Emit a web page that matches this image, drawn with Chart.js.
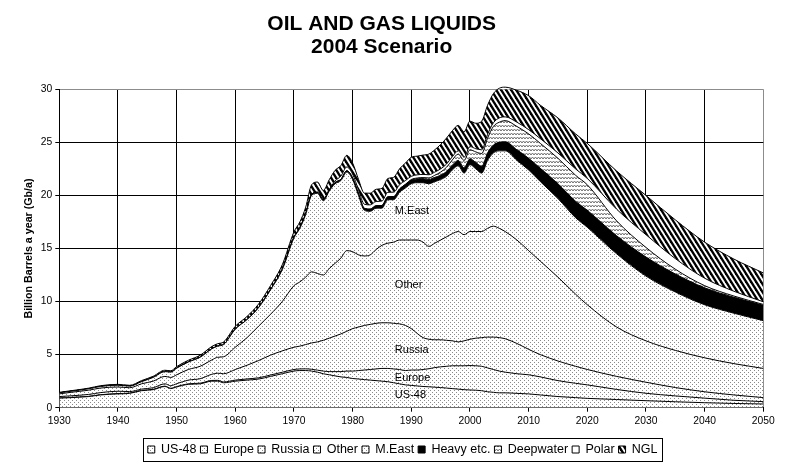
<!DOCTYPE html>
<html><head><meta charset="utf-8">
<script src="https://cdn.jsdelivr.net/npm/chart.js@4.4.1/dist/chart.umd.min.js"></script>
<style>html,body{margin:0;padding:0;background:#fff}#wrap{width:799px;height:470px}canvas{display:block}</style>
</head><body><div id="wrap"><canvas id="c" width="799" height="470"></canvas></div>
<script>
const years = [1930,1932,1935,1937,1940,1942,1944,1946,1948,1949,
1950,1952,1954,1956,1957,1958,1960,1962,1964,1966,
1968,1970,1971,1972,1973,1974,1975,1976,1977,1978,
1979,1980,1981,1982,1983,1984,1985,1986,1987,1988,
1989,1990,1991,1992,1993,1994,1995,1996,1997,1998,
1999,2000,2001,2002,2003,2004,2005,2006,2008,2010,
2012,2015,2018,2020,2025,2030,2035,2040,2045,2050];

const us48 = [0.9,0.95,1.05,1.2,1.3,1.35,1.6,1.7,2.0,1.8,
1.95,2.2,2.25,2.5,2.5,2.35,2.5,2.6,2.7,2.95,
3.2,3.45,3.5,3.5,3.45,3.35,3.2,3.1,3.0,2.9,
2.85,2.75,2.7,2.65,2.6,2.55,2.5,2.45,2.35,2.25,
2.15,2.1,2.05,2.0,1.97,1.93,1.9,1.85,1.8,1.75,
1.7,1.67,1.65,1.6,1.5,1.45,1.4,1.4,1.35,1.3,
1.2,1.05,0.95,0.88,0.77,0.66,0.56,0.47,0.4,0.35];

const europe = [0.02,0.02,0.02,0.02,0.03,0.03,0.03,0.03,0.03,0.03,
0.04,0.05,0.06,0.07,0.08,0.08,0.1,0.11,0.12,0.13,
0.14,0.15,0.15,0.16,0.17,0.19,0.25,0.3,0.4,0.5,
0.6,0.7,0.8,0.9,1.0,1.1,1.2,1.25,1.3,1.35,
1.35,1.45,1.5,1.6,1.7,1.85,1.95,2.05,2.15,2.2,
2.25,2.3,2.3,2.3,2.25,2.15,2.05,1.95,1.85,1.8,
1.7,1.5,1.35,1.27,0.95,0.7,0.55,0.43,0.3,0.22];

const russia = [0.13,0.15,0.18,0.2,0.22,0.14,0.12,0.15,0.22,0.24,
0.27,0.35,0.42,0.58,0.67,0.77,1.0,1.29,1.63,1.87,
2.01,2.1,2.15,2.29,2.48,2.66,2.9,3.15,3.35,3.55,
3.75,4.0,4.1,4.2,4.25,4.3,4.3,4.3,4.3,4.3,
4.25,3.9,3.45,3.0,2.78,2.62,2.55,2.45,2.35,2.25,
2.35,2.48,2.6,2.7,2.9,3.05,3.15,3.15,2.85,2.4,
2.1,1.85,1.6,1.45,1.23,1.04,0.79,0.6,0.5,0.38];

const other = [0.25,0.33,0.4,0.43,0.4,0.36,0.5,0.62,0.7,0.78,
0.84,1.0,1.17,1.35,1.5,1.6,2.1,2.6,3.25,3.85,
4.65,5.8,6.05,6.35,6.7,6.45,6.15,6.55,6.85,7.15,
7.6,7.25,6.8,6.55,6.55,6.95,7.3,7.5,7.65,7.9,
8.05,8.35,8.8,9.0,8.75,9.1,9.4,9.75,10.1,10.4,
10.0,10.15,10.05,10.0,10.25,10.45,10.3,10.1,9.75,9.3,
8.8,7.9,6.8,6.1,4.65,3.9,3.5,3.2,2.95,2.75];

const mEast = [0.1,0.1,0.13,0.15,0.17,0.15,0.2,0.35,0.45,0.5,
0.62,0.7,0.85,1.05,1.05,1.15,1.7,1.7,1.75,2.3,
3.0,4.5,5.05,5.9,7.2,7.55,7.0,7.3,7.5,7.3,
7.4,6.8,5.6,4.3,4.1,3.9,3.5,4.1,4.0,4.5,
4.9,5.3,5.4,5.6,5.9,5.8,5.7,5.7,6.0,6.2,
5.8,6.3,5.9,5.5,6.4,6.9,7.3,7.6,7.5,7.6,
7.5,7.4,7.2,7.3,6.9,6.1,5.5,5.0,4.75,4.5];

const heavy = [0,0,0,0,0,0,0,0,0,0,
0,0,0,0,0,0,0,0,0,0.02,
0.03,0.05,0.06,0.07,0.08,0.09,0.1,0.1,0.11,0.12,
0.13,0.15,0.17,0.19,0.21,0.23,0.25,0.27,0.29,0.31,
0.33,0.35,0.36,0.38,0.4,0.4,0.4,0.45,0.45,0.5,
0.5,0.55,0.6,0.65,0.7,0.75,0.8,0.85,1.0,1.1,
1.25,1.4,1.55,1.6,1.7,1.8,1.7,1.6,1.5,1.45];

const deepwater = [0,0,0,0,0,0,0,0,0,0,
0,0,0,0,0,0,0,0,0,0,
0,0,0,0,0,0,0,0,0,0,
0,0,0,0,0,0,0,0,0,0,
0.02,0.05,0.08,0.1,0.15,0.2,0.3,0.4,0.5,0.6,
0.7,0.85,1.0,1.2,1.4,1.75,1.9,2.0,2.2,2.3,
2.35,2.4,2.45,2.4,1.4,0.9,0.45,0.2,0.12,0.08];

const polar = [0,0,0,0,0,0,0,0,0,0,
0,0,0,0,0,0,0,0,0,0,
0,0.02,0.02,0.02,0.02,0.02,0.02,0.02,0.15,0.3,
0.35,0.35,0.35,0.38,0.4,0.4,0.42,0.42,0.42,0.4,
0.35,0.3,0.3,0.3,0.3,0.3,0.3,0.3,0.3,0.3,
0.3,0.3,0.3,0.35,0.35,0.35,0.4,0.35,0.4,0.4,
0.45,0.5,0.6,0.6,1.1,1.2,1.0,0.7,0.45,0.25];

const ngl = [0.05,0.05,0.06,0.07,0.08,0.08,0.1,0.11,0.13,0.13,
0.15,0.17,0.19,0.22,0.23,0.24,0.27,0.3,0.34,0.38,
0.43,0.5,0.52,0.6,0.9,0.95,0.85,0.95,1.0,1.0,
1.1,1.05,1.0,1.05,1.1,1.15,1.2,1.3,1.4,1.5,
1.65,1.8,1.76,1.82,1.95,2.1,2.3,2.45,2.45,2.4,
2.4,2.4,2.4,2.7,2.75,2.75,2.8,2.8,3.0,3.2,
3.15,3.3,3.3,3.3,3.6,3.7,3.65,3.4,3.03,2.72];

const seriesNames = ['US-48','Europe','Russia','Other','M.East','Heavy etc.','Deepwater','Polar','NGL'];
const seriesValues = [us48, europe, russia, other, mEast, heavy, deepwater, polar, ngl];
const xTicks = {min:1930, max:2050, step:10};
const yTicks = {min:0, max:30, step:5};
const titleLines = ['OIL AND GAS LIQUIDS','2004 Scenario'];
const yTitle = 'Billion Barrels a year (Gb/a)';
const areaLabels = ['M.East','Other','Russia','Europe','US-48'];

// label anchors (position only, not data)
const areaLabelAnchor = {year:1987.2, values:[18.55,11.55,5.45,2.8,1.2]};

function makePattern(w,h,draw){
  const c=document.createElement('canvas'); c.width=w; c.height=h;
  const x=c.getContext('2d'); x.fillStyle='#fff'; x.fillRect(0,0,w,h); draw(x);
  return x.createPattern(c,'repeat');
}
const dots = makePattern(4,4,x=>{x.fillStyle='#8a8a8a';x.fillRect(0,0,1,1);x.fillRect(2,2,1,1);});
const waves = makePattern(6,4,x=>{x.strokeStyle='#707070';x.lineWidth=1;x.beginPath();x.moveTo(0,3);x.lineTo(1.5,1);x.lineTo(3,3);x.lineTo(4.5,1);x.lineTo(6,3);x.stroke();});
const stripes = makePattern(5,8,x=>{x.strokeStyle='#000';x.lineWidth=2.3;for(const k of [-1,0,1]){x.beginPath();x.moveTo(k*5-1.25,-2);x.lineTo(k*5+6.25,10);x.stroke();}});
const fills = [dots,dots,dots,dots,dots,'#000',waves,'#fff',stripes];

const FONT = "'Liberation Sans', Arial, sans-serif";

const datasets = seriesNames.map((n,i)=>({
  label:n,
  data: years.map((yr,j)=>({x:yr,y:seriesValues[i][j]})),
  backgroundColor: fills[i],
  borderColor:'#000',
  borderWidth:1,
  pointRadius:0,
  pointHoverRadius:0,
  fill: i===0 ? 'origin' : '-1',
  cubicInterpolationMode:'monotone',
  clip:{left:0,top:6,right:0,bottom:0}
}));

const areaLabelPlugin = {
  id:'areaLabels',
  afterDatasetsDraw(chart){
    const ctx=chart.ctx, xs=chart.scales.x, ys=chart.scales.y;
    ctx.save();
    ctx.font = "11px "+FONT; ctx.fillStyle='#000'; ctx.textAlign='left'; ctx.textBaseline='middle';
    areaLabels.forEach((t,i)=>{ ctx.fillText(t, xs.getPixelForValue(areaLabelAnchor.year), ys.getPixelForValue(areaLabelAnchor.values[i])); });
    ctx.restore();
  }
};
const legendShift = {
  id:'legendShift',
  afterLayout(chart){
    const lg = chart.legend; if(!lg) return;
    lg.left += 21; lg.right += 21;
  }
};
const legendBorder = {
  id:'legendBorder',
  afterDraw(chart){
    const hb = chart.legend && chart.legend.legendHitBoxes; if(!hb||!hb.length) return;
    const ctx=chart.ctx;
    const l = Math.round(hb[0].left - 5), r = Math.round(hb[hb.length-1].left + hb[hb.length-1].width + 4);
    const cy = hb[0].top + hb[0].height/2;
    ctx.save(); ctx.strokeStyle='#000'; ctx.lineWidth=1;
    ctx.strokeRect(l+0.5, Math.round(cy-11.5)+0.5, r-l, 23);
    ctx.restore();
  }
};

new Chart(document.getElementById('c'), {
  type:'line',
  data:{datasets},
  options:{
    responsive:false, animation:false, devicePixelRatio:1,
    layout:{padding:{left:0,right:35.7,top:0,bottom:4.25}},
    plugins:{
      title:{display:true,text:titleLines,color:'#000',font:{family:FONT,size:21,weight:'bold',lineHeight:1.1},padding:{top:12.5,bottom:30.6}},
      legend:{position:'bottom',align:'center',labels:{color:'#000',font:{family:FONT,size:12.5},boxWidth:7,boxHeight:7,padding:4}},
      tooltip:{enabled:false}
    },
    scales:{
      x:{type:'linear',min:xTicks.min,max:xTicks.max,
        ticks:{stepSize:xTicks.step,callback:v=>String(v),color:'#000',font:{family:FONT,size:10.3},padding:3,maxRotation:0,autoSkip:false},
        grid:{color:c=>(c.tick&&c.tick.value===xTicks.max)?'#8c8c8c':'#000',tickLength:4,tickColor:'#000'},
        border:{color:'#000'},
        afterFit:s=>{s.height=31.55;}
      },
      y:{stacked:true,min:yTicks.min,max:yTicks.max,
        ticks:{stepSize:yTicks.step,callback:v=>String(v),color:'#000',font:{family:FONT,size:10.3},padding:3},
        grid:{color:c=>(c.tick&&c.tick.value===yTicks.max)?'#8c8c8c':'#000',tickLength:4,tickColor:'#000'},
        border:{color:'#000'},
        title:{display:true,text:yTitle,color:'#000',font:{family:FONT,size:10.7,weight:'bold'},padding:{top:22.6,bottom:0}},
        afterFit:s=>{s.width=59.3;}
      }
    }
  },
  plugins:[areaLabelPlugin, legendShift, legendBorder]
});
</script></body></html>
